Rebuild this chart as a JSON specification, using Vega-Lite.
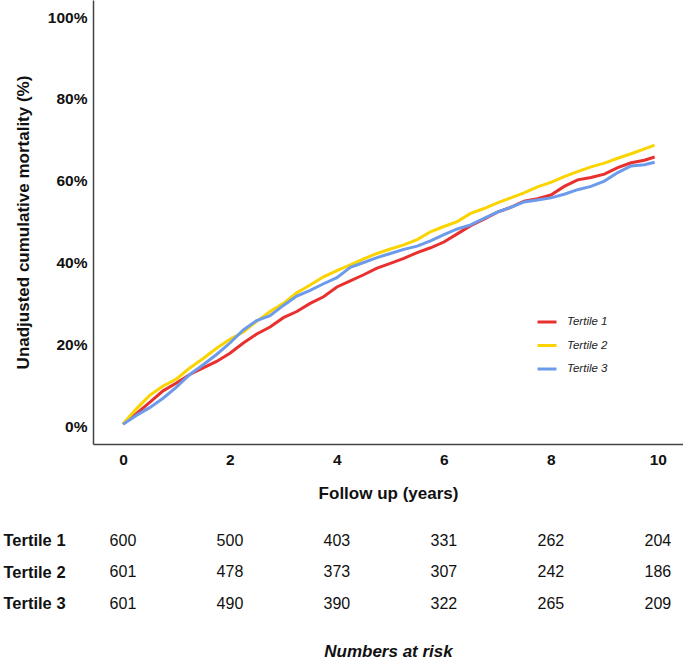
{
  "$schema": "https://vega.github.io/schema/vega-lite/v6.json",
  "padding": {"left": 3, "top": 0, "right": 0, "bottom": 0},
  "background": "white",
  "spacing": 23,
  "config": {
    "view": {"stroke": null},
    "font": "Liberation Sans",
    "axis": {"grid": false, "labelColor": "#111", "titleColor": "#111"}
  },
  "resolve": {"legend": {"color": "independent"}},
  "vconcat": [
    {
      "width": 590,
      "height": 444,
      "data": {
        "values": [
          {"group": "Tertile 1", "year": 0, "pct": 0.5},
          {"group": "Tertile 1", "year": 0.25, "pct": 3.0},
          {"group": "Tertile 1", "year": 0.5, "pct": 5.8},
          {"group": "Tertile 1", "year": 0.75, "pct": 8.6},
          {"group": "Tertile 1", "year": 1.0, "pct": 10.5},
          {"group": "Tertile 1", "year": 1.25, "pct": 12.6},
          {"group": "Tertile 1", "year": 1.5, "pct": 14.2},
          {"group": "Tertile 1", "year": 1.75, "pct": 15.8},
          {"group": "Tertile 1", "year": 2.0, "pct": 17.8},
          {"group": "Tertile 1", "year": 2.25, "pct": 20.3},
          {"group": "Tertile 1", "year": 2.5, "pct": 22.5},
          {"group": "Tertile 1", "year": 2.75, "pct": 24.2},
          {"group": "Tertile 1", "year": 3.0, "pct": 26.5},
          {"group": "Tertile 1", "year": 3.25, "pct": 28.0},
          {"group": "Tertile 1", "year": 3.5, "pct": 30.0},
          {"group": "Tertile 1", "year": 3.75, "pct": 31.6},
          {"group": "Tertile 1", "year": 4.0, "pct": 34.0},
          {"group": "Tertile 1", "year": 4.25, "pct": 35.5},
          {"group": "Tertile 1", "year": 4.5, "pct": 37.0},
          {"group": "Tertile 1", "year": 4.75, "pct": 38.6},
          {"group": "Tertile 1", "year": 5.0, "pct": 39.8},
          {"group": "Tertile 1", "year": 5.25, "pct": 41.0},
          {"group": "Tertile 1", "year": 5.5, "pct": 42.4},
          {"group": "Tertile 1", "year": 5.75, "pct": 43.6},
          {"group": "Tertile 1", "year": 6.0, "pct": 45.0},
          {"group": "Tertile 1", "year": 6.25, "pct": 47.0},
          {"group": "Tertile 1", "year": 6.5, "pct": 49.0},
          {"group": "Tertile 1", "year": 6.75, "pct": 50.6},
          {"group": "Tertile 1", "year": 7.0, "pct": 52.3},
          {"group": "Tertile 1", "year": 7.25, "pct": 53.5},
          {"group": "Tertile 1", "year": 7.5, "pct": 55.0},
          {"group": "Tertile 1", "year": 7.75, "pct": 55.6},
          {"group": "Tertile 1", "year": 8.0, "pct": 56.5},
          {"group": "Tertile 1", "year": 8.25, "pct": 58.6},
          {"group": "Tertile 1", "year": 8.5, "pct": 60.2},
          {"group": "Tertile 1", "year": 8.75, "pct": 60.8},
          {"group": "Tertile 1", "year": 9.0, "pct": 61.6},
          {"group": "Tertile 1", "year": 9.25, "pct": 63.2},
          {"group": "Tertile 1", "year": 9.5, "pct": 64.4},
          {"group": "Tertile 1", "year": 9.75, "pct": 65.0},
          {"group": "Tertile 1", "year": 9.94, "pct": 65.8},
          {"group": "Tertile 2", "year": 0, "pct": 0.5},
          {"group": "Tertile 2", "year": 0.25, "pct": 4.2},
          {"group": "Tertile 2", "year": 0.5, "pct": 7.5},
          {"group": "Tertile 2", "year": 0.75, "pct": 9.8},
          {"group": "Tertile 2", "year": 1.0, "pct": 11.5},
          {"group": "Tertile 2", "year": 1.25, "pct": 14.2},
          {"group": "Tertile 2", "year": 1.5, "pct": 16.5},
          {"group": "Tertile 2", "year": 1.75, "pct": 19.0},
          {"group": "Tertile 2", "year": 2.0, "pct": 21.2},
          {"group": "Tertile 2", "year": 2.25, "pct": 23.0},
          {"group": "Tertile 2", "year": 2.5, "pct": 25.6},
          {"group": "Tertile 2", "year": 2.75, "pct": 28.0},
          {"group": "Tertile 2", "year": 3.0, "pct": 30.0},
          {"group": "Tertile 2", "year": 3.25, "pct": 32.6},
          {"group": "Tertile 2", "year": 3.5, "pct": 34.5},
          {"group": "Tertile 2", "year": 3.75, "pct": 36.5},
          {"group": "Tertile 2", "year": 4.0, "pct": 38.0},
          {"group": "Tertile 2", "year": 4.25, "pct": 39.4},
          {"group": "Tertile 2", "year": 4.5, "pct": 40.9},
          {"group": "Tertile 2", "year": 4.75, "pct": 42.2},
          {"group": "Tertile 2", "year": 5.0, "pct": 43.3},
          {"group": "Tertile 2", "year": 5.25, "pct": 44.3},
          {"group": "Tertile 2", "year": 5.5, "pct": 45.6},
          {"group": "Tertile 2", "year": 5.75, "pct": 47.5},
          {"group": "Tertile 2", "year": 6.0, "pct": 48.8},
          {"group": "Tertile 2", "year": 6.25, "pct": 50.0},
          {"group": "Tertile 2", "year": 6.5, "pct": 52.0},
          {"group": "Tertile 2", "year": 6.75, "pct": 53.2},
          {"group": "Tertile 2", "year": 7.0, "pct": 54.6},
          {"group": "Tertile 2", "year": 7.25, "pct": 55.8},
          {"group": "Tertile 2", "year": 7.5, "pct": 57.0},
          {"group": "Tertile 2", "year": 7.75, "pct": 58.5},
          {"group": "Tertile 2", "year": 8.0, "pct": 59.6},
          {"group": "Tertile 2", "year": 8.25, "pct": 61.0},
          {"group": "Tertile 2", "year": 8.5, "pct": 62.2},
          {"group": "Tertile 2", "year": 8.75, "pct": 63.4},
          {"group": "Tertile 2", "year": 9.0, "pct": 64.3},
          {"group": "Tertile 2", "year": 9.25, "pct": 65.5},
          {"group": "Tertile 2", "year": 9.5, "pct": 66.6},
          {"group": "Tertile 2", "year": 9.75, "pct": 67.8},
          {"group": "Tertile 2", "year": 9.94, "pct": 68.7},
          {"group": "Tertile 3", "year": 0, "pct": 0.4},
          {"group": "Tertile 3", "year": 0.25, "pct": 2.6},
          {"group": "Tertile 3", "year": 0.5, "pct": 4.5},
          {"group": "Tertile 3", "year": 0.75, "pct": 6.8},
          {"group": "Tertile 3", "year": 1.0, "pct": 9.5},
          {"group": "Tertile 3", "year": 1.25, "pct": 12.6},
          {"group": "Tertile 3", "year": 1.5, "pct": 15.0},
          {"group": "Tertile 3", "year": 1.75, "pct": 17.5},
          {"group": "Tertile 3", "year": 2.0, "pct": 20.3},
          {"group": "Tertile 3", "year": 2.25, "pct": 23.5},
          {"group": "Tertile 3", "year": 2.5, "pct": 25.8},
          {"group": "Tertile 3", "year": 2.75, "pct": 27.0},
          {"group": "Tertile 3", "year": 3.0, "pct": 29.5},
          {"group": "Tertile 3", "year": 3.25, "pct": 31.8},
          {"group": "Tertile 3", "year": 3.5, "pct": 33.2},
          {"group": "Tertile 3", "year": 3.75, "pct": 34.8},
          {"group": "Tertile 3", "year": 4.0, "pct": 36.3},
          {"group": "Tertile 3", "year": 4.25, "pct": 38.8},
          {"group": "Tertile 3", "year": 4.5, "pct": 40.0},
          {"group": "Tertile 3", "year": 4.75, "pct": 41.2},
          {"group": "Tertile 3", "year": 5.0, "pct": 42.2},
          {"group": "Tertile 3", "year": 5.25, "pct": 43.2},
          {"group": "Tertile 3", "year": 5.5, "pct": 44.0},
          {"group": "Tertile 3", "year": 5.75, "pct": 45.3},
          {"group": "Tertile 3", "year": 6.0, "pct": 46.8},
          {"group": "Tertile 3", "year": 6.25, "pct": 48.2},
          {"group": "Tertile 3", "year": 6.5, "pct": 49.2},
          {"group": "Tertile 3", "year": 6.75, "pct": 50.8},
          {"group": "Tertile 3", "year": 7.0, "pct": 52.3},
          {"group": "Tertile 3", "year": 7.25, "pct": 53.5},
          {"group": "Tertile 3", "year": 7.5, "pct": 54.8},
          {"group": "Tertile 3", "year": 7.75, "pct": 55.3},
          {"group": "Tertile 3", "year": 8.0, "pct": 55.8},
          {"group": "Tertile 3", "year": 8.25, "pct": 56.7},
          {"group": "Tertile 3", "year": 8.5, "pct": 57.8},
          {"group": "Tertile 3", "year": 8.75, "pct": 58.6},
          {"group": "Tertile 3", "year": 9.0, "pct": 59.9},
          {"group": "Tertile 3", "year": 9.25, "pct": 62.0},
          {"group": "Tertile 3", "year": 9.5, "pct": 63.6},
          {"group": "Tertile 3", "year": 9.75, "pct": 63.9},
          {"group": "Tertile 3", "year": 9.94, "pct": 64.5}
        ]
      },
      "mark": {"type": "line", "strokeWidth": 3, "interpolate": "linear"},
      "encoding": {
        "x": {
          "field": "year", "type": "quantitative",
          "scale": {"domain": [-0.56, 10.47], "nice": false, "zero": false},
          "axis": {
            "values": [0, 2, 4, 6, 8, 10], "ticks": false, "tickSize": 0,
            "domainColor": "#444", "domainWidth": 1.5,
            "labelFontSize": 15.5, "labelFontWeight": "bold", "labelPadding": 8,
            "title": "Follow up (years)", "titleFontSize": 17, "titleFontWeight": "bold", "titlePadding": 18
          }
        },
        "y": {
          "field": "pct", "type": "quantitative",
          "scale": {"domain": [-4.4, 104.2], "nice": false, "zero": false},
          "axis": {
            "values": [0, 20, 40, 60, 80, 100], "ticks": false, "tickSize": 0,
            "labelExpr": "datum.value + '%'",
            "domainColor": "#444", "domainWidth": 1.5,
            "labelFontSize": 15.5, "labelFontWeight": "bold", "labelPadding": 6,
            "title": "Unadjusted cumulative mortality (%)", "titleFontSize": 17, "titleFontWeight": "bold", "titlePadding": 15
          }
        },
        "color": {
          "field": "group", "type": "nominal",
          "scale": {"domain": ["Tertile 1", "Tertile 2", "Tertile 3"], "range": ["#e8302e", "#fbd400", "#6c9beb"]},
          "legend": {
            "title": null, "orient": "none", "legendX": 443, "legendY": 311,
            "symbolType": "stroke", "symbolSize": 361, "symbolStrokeWidth": 3,
            "labelFontSize": 11.5, "labelFontStyle": "italic", "labelColor": "#222",
            "labelOffset": 9, "rowPadding": 6.5, "padding": 0
          }
        }
      }
    },
    {
      "width": 590,
      "height": 94.5,
      "data": {
        "values": [
          {"group": "Tertile 1", "year": 0, "n": 600},
          {"group": "Tertile 1", "year": 2, "n": 500},
          {"group": "Tertile 1", "year": 4, "n": 403},
          {"group": "Tertile 1", "year": 6, "n": 331},
          {"group": "Tertile 1", "year": 8, "n": 262},
          {"group": "Tertile 1", "year": 10, "n": 204},
          {"group": "Tertile 2", "year": 0, "n": 601},
          {"group": "Tertile 2", "year": 2, "n": 478},
          {"group": "Tertile 2", "year": 4, "n": 373},
          {"group": "Tertile 2", "year": 6, "n": 307},
          {"group": "Tertile 2", "year": 8, "n": 242},
          {"group": "Tertile 2", "year": 10, "n": 186},
          {"group": "Tertile 3", "year": 0, "n": 601},
          {"group": "Tertile 3", "year": 2, "n": 490},
          {"group": "Tertile 3", "year": 4, "n": 390},
          {"group": "Tertile 3", "year": 6, "n": 322},
          {"group": "Tertile 3", "year": 8, "n": 265},
          {"group": "Tertile 3", "year": 10, "n": 209}
        ]
      },
      "mark": {"type": "text", "fontSize": 16, "color": "#111", "align": "center", "baseline": "middle"},
      "encoding": {
        "x": {
          "field": "year", "type": "quantitative",
          "scale": {"domain": [-0.56, 10.47], "nice": false, "zero": false},
          "axis": {
            "labels": false, "ticks": false, "domain": false, "tickSize": 0,
            "title": "Numbers at risk", "titleFontSize": 17, "titleFontWeight": "bold", "titleFontStyle": "italic", "titlePadding": 24
          }
        },
        "y": {
          "field": "group", "type": "nominal",
          "sort": ["Tertile 1", "Tertile 2", "Tertile 3"],
          "scale": {"padding": 0.5},
          "axis": {
            "title": null, "ticks": false, "domain": false, "tickSize": 0,
            "labelAlign": "left", "labelPadding": 90, "labelBaseline": "middle",
            "labelFontSize": 16.5, "labelFontWeight": "bold"
          }
        },
        "text": {"field": "n", "type": "quantitative"}
      }
    }
  ]
}
